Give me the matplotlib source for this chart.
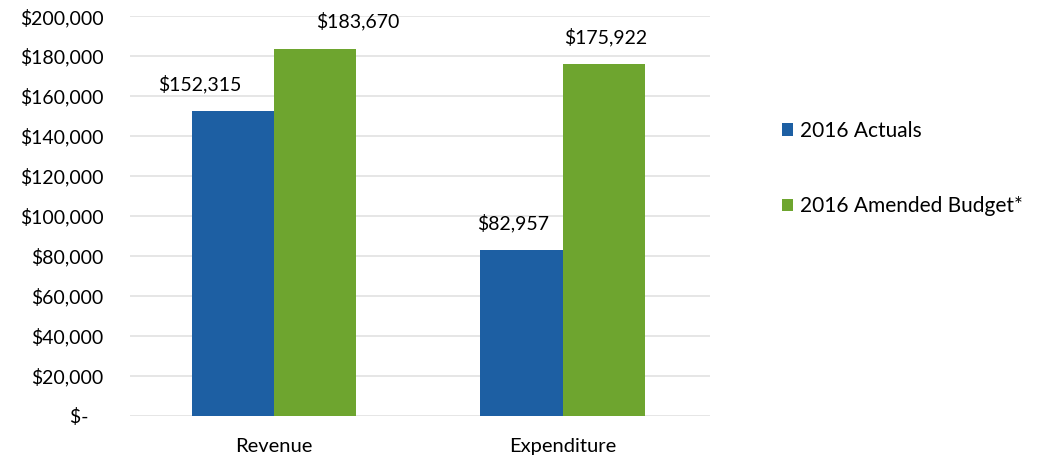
import numpy as np
import matplotlib.pyplot as plt

plt.rcParams['font.family'] = ['Lato', 'DejaVu Sans']

categories = ['Revenue', 'Expenditure']
actuals = [152315, 82957]
budget = [183670, 175922]
series_names = ['2016 Actuals', '2016 Amended Budget*']
yticks = [0, 20000, 40000, 60000, 80000, 100000, 120000, 140000, 160000, 180000, 200000]

blue = '#1d5fa3'
green = '#6ea52f'

# horizontal nudges of the value labels (points), as in the original layout
actual_dx = [-24, -6]
budget_dx = [31, 1]


def money(v):
    # accounting style: zero shows as a dash
    return '$-   ' if v == 0 else f'${v:,.0f}'


fig = plt.figure(figsize=(10.38, 4.59), dpi=100)
ax = fig.add_axes([0.125, 0.094, 0.559, 0.871])

x = np.arange(len(categories))
w = 0.285
b1 = ax.bar(x - w / 2, actuals, w, color=blue, label=series_names[0], zorder=3)
b2 = ax.bar(x + w / 2, budget, w, color=green, label=series_names[1], zorder=3)

for bars, vals, dxs in [(b1, actuals, actual_dx), (b2, budget, budget_dx)]:
    for bar, v, dx in zip(bars, vals, dxs):
        ax.annotate(money(v), (bar.get_x() + bar.get_width() / 2, v),
                    xytext=(dx, 13), textcoords='offset points',
                    ha='center', va='bottom', fontsize=14, color='#000000')

ax.set_xlim(-0.5, 1.51)
ax.set_ylim(0, 200000)
ax.set_yticks(yticks)
ax.set_yticklabels([money(v) for v in yticks])
ax.set_xticks(x)
ax.set_xticklabels(categories)
ax.tick_params(axis='y', length=0, pad=19, labelsize=14, labelcolor='#000000')
ax.tick_params(axis='x', length=0, pad=16, labelsize=14.5, labelcolor='#000000')
ax.grid(axis='y', color='#e2e2e2', linewidth=1.2, zorder=0)
for s in ax.spines.values():
    s.set_visible(False)

fig.legend(handles=[b1, b2], labels=series_names, loc='upper left',
           bbox_to_anchor=(0.735, 0.777), frameon=False, fontsize=15,
           handlelength=0.55, handleheight=0.55, handletextpad=0.35,
           labelspacing=2.65)

fig.savefig('out.png', dpi=100)
